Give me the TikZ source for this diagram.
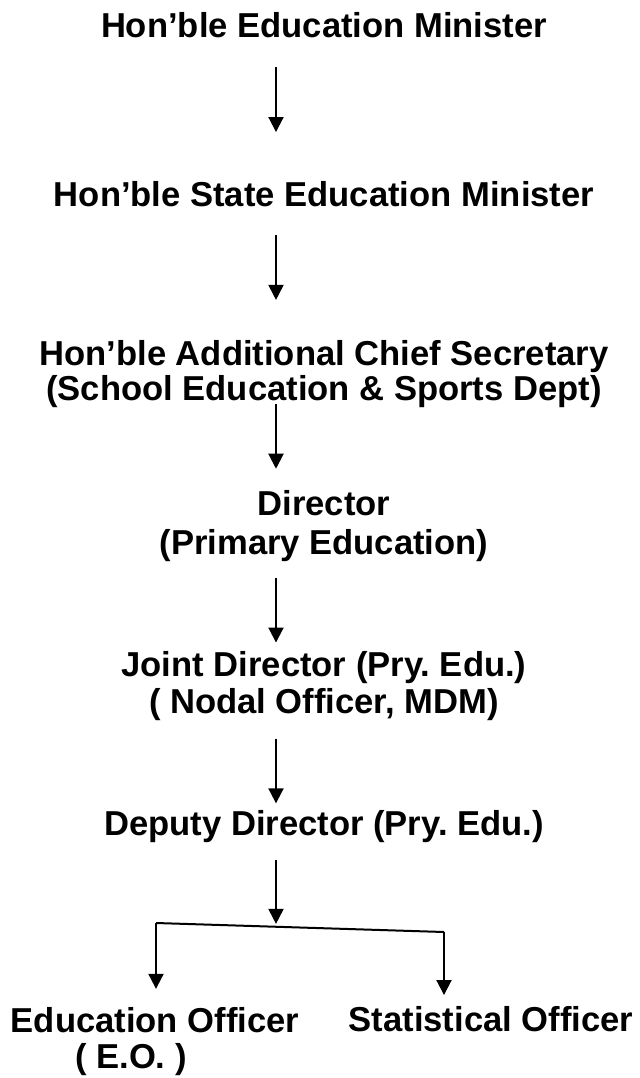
\documentclass[tikz,border=0pt]{standalone}
\usepackage{fontspec}
\setmainfont{Liberation Sans}
\usetikzlibrary{arrows.meta}
\frenchspacing

\begin{document}
\begin{tikzpicture}[x=0.5pt, y=-0.5pt]
	% % % % % % % % % % % % % % % % % % % % % % % % % % % % % %
	% Define styles
	\tikzstyle{post} = [inner sep=0pt, anchor=base, align=center,
					    font=\bfseries\fontsize{17.3}{17.5}\selectfont]
	\tikzstyle{line} = [draw, -{Triangle[width=7.5pt,length=7.5pt]}, line width=1pt]

	\useasboundingbox (0,0) rectangle (639,1078);
	% column of the arrows
	\coordinate (ax) at (276,0);

	% % % % % % % % % % % % % % % % % % % % % % % % % % % % % %
	% Place nodes (base = last line)
	\node [post] (hem) at (324,37.3) {Hon’ble Education Minister};
	\node [post] (sem) at (324,206.7) {Hon’ble State Education Minister};
	\node [post] (acs) at (324,400) {Hon’ble Additional Chief Secretary\\(School Education \& Sports Dept)};
	\node [post] (dir) at (324,554) {Director\\[2pt](Primary Education)};
	\node [post] (jd) at (324,713) {Joint Director (Pry. Edu.)\\[1pt]( Nodal Officer, MDM)};
	\node [post] (dd) at (324,835) {Deputy Director (Pry. Edu.)};
	% last level
	\node [post] (eo) at (155,1068.3) {Education Officer\\[0.5pt]( E.O. )\hspace*{24pt}};
	\node [post] (so) at (491,1031.7) {Statistical Officer};

	% branch points
	\coordinate (jl) at (156,923);
	\coordinate (jr) at (444,932);
	\coordinate (jm) at (276,926.7);

	% Draw edges
	\path [line, shorten <=14.5pt, shorten >=24.6pt] (hem.south -| ax) -- (sem.north -| ax);
	\path [line, shorten <=13.9pt, shorten >=19.8pt] (sem.south -| ax) -- (acs.north -| ax);
	\path [line, shorten <=-1.6pt, shorten >=10.4pt] (acs.south -| ax) -- (dir.north -| ax);
	\path [line, shorten <=8pt, shorten >=4pt] (dir.south -| ax) -- (jd.north -| ax);
	\path [line, shorten <=9pt, shorten >=3.1pt] (jd.south -| ax) -- (dd.north -| ax);
	\path [line, shorten <=8.5pt, shorten >=1.4pt] (dd.south -| ax) -- (jm);
	% %  split to the two officers
	\draw [line width=1pt] (jl) -- (jr);
	\path [line, shorten >=9pt] (jl) -- (eo.north -| jl);
	\path [line, shorten >=5.6pt] (jr) -- (so.north -| jr);
\end{tikzpicture}
\end{document}
